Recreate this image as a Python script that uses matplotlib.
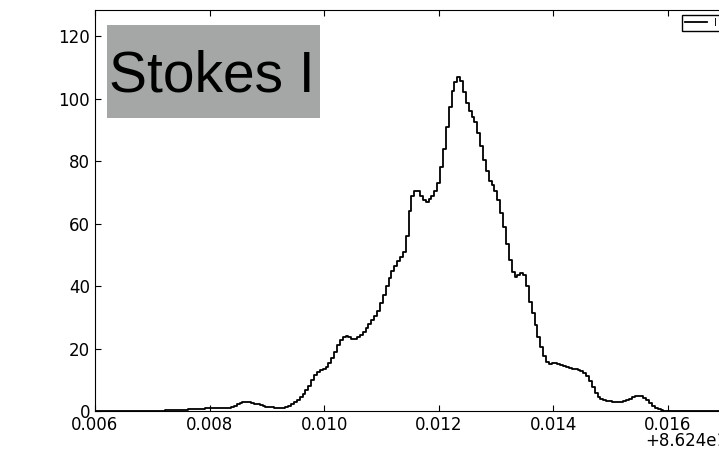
#Import necessary libraries
import numpy as np
import matplotlib
matplotlib.use('Agg')
import matplotlib.pyplot as mpl
from matplotlib.patches import Rectangle
from matplotlib.ticker import ScalarFormatter

#Spectrum channels (frequency, offset from 86.24)
chan_start = 0.0060
chan_width = 0.00005

#Stokes I intensity per channel, 10 channels per row
stokes_i = [
    0.0, 0.0, 0.0, 0.0, 0.0, 0.0, 0.0, 0.0, 0.0, 0.0,
    0.0, 0.0,
    0.0, 0.0, 0.0, 0.0, 0.05, 0.05, 0.05, 0.1, 0.1, 0.1,
    0.1, 0.15, 0.15, 0.2, 0.2, 0.25, 0.3, 0.3, 0.35, 0.4,
    0.45, 0.5, 0.55, 0.6, 0.7, 0.75, 0.8, 0.85, 0.9, 0.9,
    0.9, 0.85, 0.85, 0.85, 0.9, 1.0, 1.2, 1.6, 2.1, 2.5,
    2.8, 2.95, 2.9, 2.7, 2.4, 2.1, 1.8, 1.6, 1.4, 1.3,
    1.2, 1.1, 1.0, 1.0, 1.1, 1.3, 1.6, 2.1, 2.8, 3.6,
    4.4, 5.4, 6.6, 8.0, 9.8, 11.5, 12.5, 13.0, 13.5, 14.2,
    15.3, 17.0, 19.0, 21.0, 22.8, 23.8, 24.0, 23.6, 23.2, 23.2,
    23.6, 24.3, 25.3, 26.5, 27.8, 29.2, 30.5, 32.0, 34.5, 37.0,
    40.0, 42.5, 44.8, 46.5, 48.0, 49.3, 51.0, 56.0, 64.0, 69.0,
    70.5, 70.4, 69.0, 67.5, 67.0, 67.8, 69.0, 70.3, 73.0, 78.0,
    84.0, 91.0, 97.5, 102.5, 105.5, 107.0, 105.8, 102.0, 98.5, 96.0,
    94.0, 92.5, 89.0, 85.0, 80.5, 77.0, 73.5, 72.5, 70.5, 67.5,
    63.5, 59.0, 53.5, 48.5, 44.5, 42.8, 43.6, 44.3, 43.5, 40.0,
    35.0, 31.4, 27.5, 23.8, 20.6, 17.5, 15.6, 15.2, 15.3, 15.4,
    15.2, 14.8, 14.3, 14.0, 13.7, 13.5, 13.3, 13.0, 12.7, 12.3,
    11.3, 9.7, 7.7, 5.9, 4.6, 3.8, 3.4, 3.2, 3.1, 3.0,
    3.0, 3.0, 3.0, 3.1, 3.4, 3.9, 4.4, 4.8, 4.9, 4.8,
    4.2, 3.4, 2.5, 1.7, 1.0, 0.6, 0.3, 0.15, 0.05, 0.0,
    0.0, 0.0, 0.0, 0.0, 0.0, 0.0, 0.0, 0.0, 0.0, 0.0,
    0.0, 0.0, 0.0, 0.0, 0.0, 0.0, 0.0, 0.0, 0.0, 0.0,
    0.0,
]

freq = 86.24 + chan_start + chan_width * np.arange(len(stokes_i))

mpl.rcParams['font.size'] = 12
mpl.rcParams['xtick.direction'] = 'in'
mpl.rcParams['ytick.direction'] = 'in'
mpl.rcParams['xtick.top'] = True
mpl.rcParams['ytick.right'] = True
mpl.rcParams['xtick.major.size'] = 4
mpl.rcParams['ytick.major.size'] = 4

fig = mpl.figure(figsize=(7.19, 4.5), dpi=100)
#axes run a little past the right edge of the canvas
ax = fig.add_axes([95/719, 39/450, 630/719, 401/450])
ax.plot(freq, stokes_i, color='black', lw=1.3, drawstyle='steps-mid', label='I')

ax.set_xlim(86.246, 86.257)
ax.set_ylim(0, 1.2 * max(stokes_i))
ax.set_xticks(86.24 + np.array([0.006, 0.008, 0.010, 0.012, 0.014, 0.016]))
ax.set_yticks([0, 20, 40, 60, 80, 100, 120])
fmt = ScalarFormatter(useOffset=86.24)
ax.xaxis.set_major_formatter(fmt)
#offset label placed by hand, right under the tick labels
ax.xaxis.get_offset_text().set_visible(False)
fig.text(727/719, 4/450, '+8.624e1', ha='right', va='baseline', fontsize=12)

ax.legend(loc='upper right', fontsize=7, handlelength=2.2, borderpad=0.3,
          fancybox=False, edgecolor='black', framealpha=1)

#Label box
ax.add_patch(Rectangle((0.019, 0.7307), 0.338, 0.2319, transform=ax.transAxes,
                       facecolor='#a4a7a5', edgecolor='none', zorder=3))
ax.text(0.1857, 0.797, 'Stokes I', transform=ax.transAxes, ha='center', va='baseline',
        fontsize=41, family=['Liberation Sans Narrow', 'Liberation Sans'], zorder=4)

mpl.savefig('out.png', dpi=100)
